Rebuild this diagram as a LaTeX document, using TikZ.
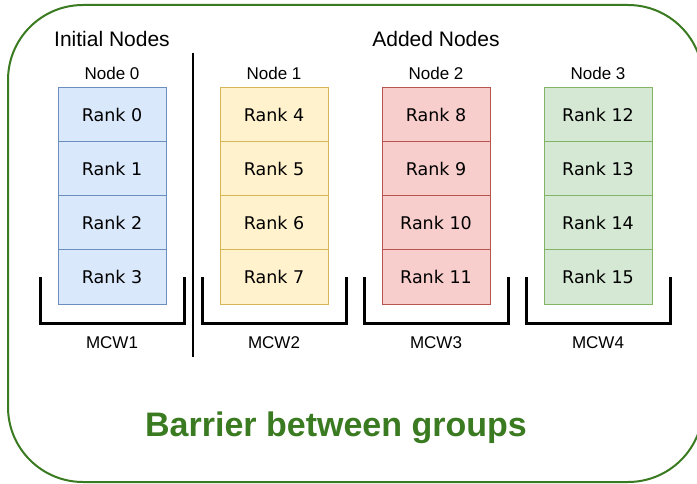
\documentclass[tikz,border=0pt]{standalone}
\usepackage{fontspec}
\setmainfont{Liberation Sans}
\newfontfamily\dejavu{DejaVu Sans}
\definecolor{bluef}{HTML}{DAE8FC}\definecolor{blued}{HTML}{6C8EBF}
\definecolor{yelf}{HTML}{FFF2CC}\definecolor{yeld}{HTML}{D6B656}
\definecolor{redf}{HTML}{F8CECC}\definecolor{redd}{HTML}{B85450}
\definecolor{grnf}{HTML}{D5E8D4}\definecolor{grnd}{HTML}{82B366}
\definecolor{dkgreen}{HTML}{3A7A20}
\tikzset{
  cell/.style={draw=#1d, fill=#1f, minimum width=108pt, minimum height=54pt, inner sep=0pt, line width=1pt, font=\dejavu\fontsize{17.5}{20}\selectfont},
  lbl/.style={anchor=base, inner sep=0pt, font=\fontsize{17}{20}\selectfont},
  title/.style={anchor=base, inner sep=0pt, font=\fontsize{21}{24}\selectfont},
  bracket/.style={line width=3pt, line cap=rect},
}
\begin{document}
\begin{tikzpicture}[x=1pt,y=-1pt]
\useasboundingbox (0,0) rectangle (697,484);
\draw[dkgreen, line width=2pt, rounded corners=75pt] (8,5) rectangle (703,482);
\node[title] (tInit) at (112,47) {Initial Nodes};
\node[title] (tAdd) at (436,47) {Added Nodes};
\foreach \c/\col/\x in {0/blue/112,1/yel/274,2/red/436,3/grn/598}{
  \node[lbl] (n\c) at (\x,80) {Node \c};
  \node[lbl] (m\c) at (\x,348) {MCW\the\numexpr\c+1\relax};
  \foreach \r in {0,1,2,3}{
    \pgfmathtruncatemacro{\k}{4*\c+\r}
    \node[cell=\col] (r\k) at (\x,115+54*\r) {Rank \k};
  }
  \coordinate (bl\c) at (\x-72,279);
  \coordinate (br\c) at (\x+72,279);
  \draw[bracket] (bl\c) -- ++(0,44) -| (br\c);
}
\coordinate (dtop) at (193,53);
\coordinate (dbot) at (193,357);
\draw[line width=2.5pt] (dtop) -- (dbot);
\node[anchor=base, inner sep=0pt, text=dkgreen, font=\bfseries\fontsize{34}{40}\selectfont] (bar) at (336,436) {Barrier between groups};
\end{tikzpicture}
\end{document}
